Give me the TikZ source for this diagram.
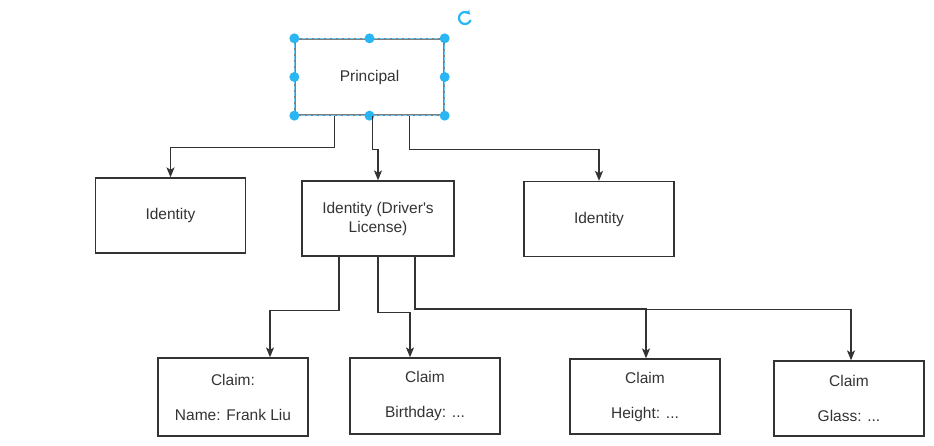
\documentclass[tikz,border=0pt]{standalone}
\usepackage{fontspec}
\setmainfont{Liberation Sans}
\usepackage{xcolor}
\usetikzlibrary{arrows.meta, positioning}
\definecolor{handleblue}{HTML}{29B6F2}
\definecolor{boxgray}{HTML}{333333}
\tikzset{
	box/.style={draw=boxgray, line width=1.3pt, minimum width=150pt, minimum height=75pt, align=center, text=boxgray, font=\fontsize{15.5}{19}\selectfont},
	arr/.style={draw=boxgray, line width=1.2pt, -{Stealth[length=10pt, width=8pt, inset=2.5pt]}},
	handle/.style={circle, fill=handleblue, inner sep=0pt, minimum size=10pt}
}

\begin{document}
\begin{tikzpicture}[x=1pt, y=-1pt]
			\useasboundingbox (0,0) rectangle (934,446);
			
			%% principal (selected)
			\node[box, minimum width=149pt, minimum height=76pt, draw=gray] (P) at (369.5,77) {Principal};
			\draw[handleblue!70, line width=1.2pt, dash pattern=on 4pt off 2pt] (P.north west) rectangle (P.south east);
			\foreach \a in {north west, north, north east, east, south east, south, south west, west}
			\node[handle] at (P.\a) {};
			
			%% rotate icon
			\draw[handleblue, line width=2.2pt, -{Stealth[length=4pt, width=6pt]}] (465,18) ++(20:6) arc[start angle=20, end angle=320, radius=6];
			
			%% identities
			\node[box] (I1) at (170.5,215.5) {Identity};
			\node[box, minimum width=152pt] (DL) at (378,218.5) {Identity (Driver\textquotesingle s\\License)};
			\node[box] (I3) at (599,219) {Identity};
			
			%% claims
			\node[box, minimum height=78pt] (C1) at (233,397) {Claim:\\[16pt]Name: Frank Liu};
			\node[box, minimum height=76pt] (C2) at (425,396) {Claim\\[16pt]Birthday: ...};
			\node[box] (C3) at (645,396.5) {Claim\\[16pt]Height: ...};
			\node[box] (C4) at (849,398.5) {Claim\\[16pt]Glass: ...};
			
			%% principal -> identities
			\draw[arr] ([xshift=-35pt]P.south) -- ++(0,32) -| (I1.north);
			\draw[arr] ([xshift=3pt]P.south) -- ++(0,34) -| (DL.north);
			\draw[arr] ([xshift=40pt]P.south) -- ++(0,34) -| (I3.north);
			
			%% driver's license -> claims
			\draw[arr] ([xshift=-39pt]DL.south) -- ++(0,54) -| ([xshift=37pt]C1.north);
			\draw[arr] (DL.south) -- ++(0,56) -| ([xshift=-15pt]C2.north);
			\draw[arr] ([xshift=37pt]DL.south) -- ++(0,52) -| ([xshift=1pt]C3.north);
			\draw[arr] ([xshift=37pt]DL.south) -- ++(0,53) -| ([xshift=2pt]C4.north);
		\end{tikzpicture}
\end{document}
